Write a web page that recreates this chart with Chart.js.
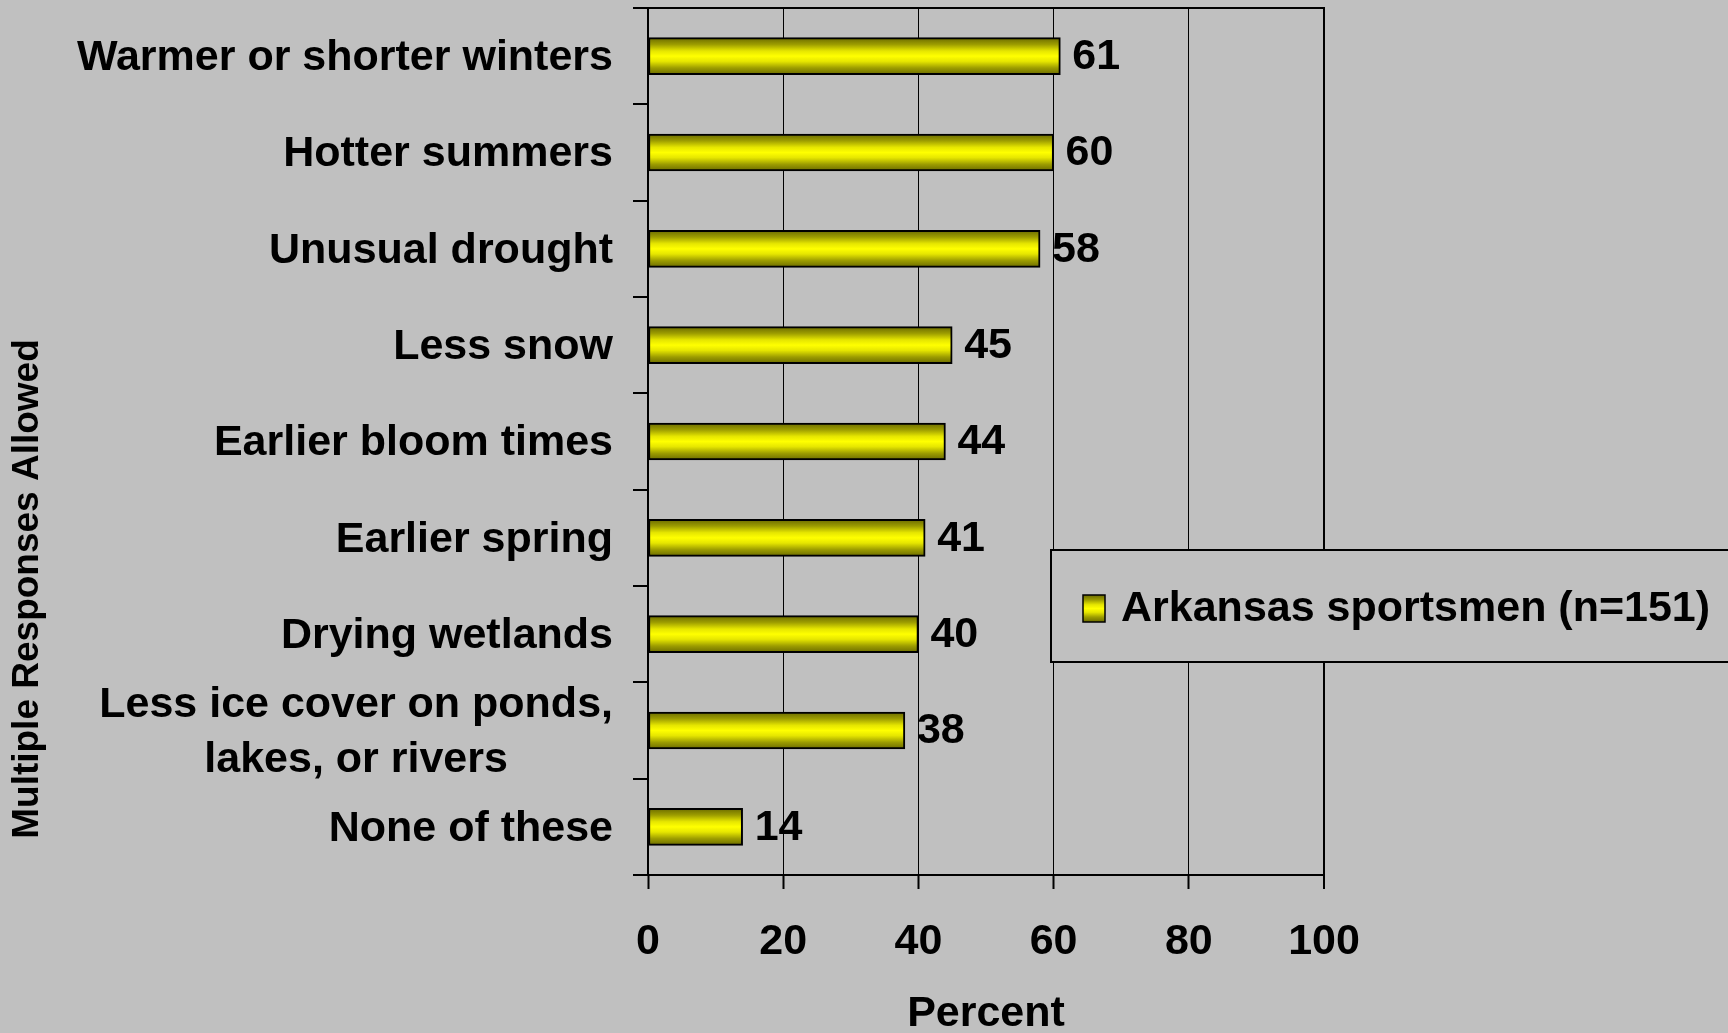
<!DOCTYPE html>
<html>
<head>
<meta charset="utf-8">
<script src="https://cdn.jsdelivr.net/npm/chart.js@4.4.1/dist/chart.umd.min.js"></script>
<style>
  html, body { margin: 0; padding: 0; background: #c0c0c0; }
  #wrap { position: relative; width: 1728px; height: 1033px; }
</style>
</head>
<body>
<div id="wrap"><canvas id="chart"></canvas></div>
<script>
// Perceived climate changes, horizontal bar chart.
const categories = [
  "Warmer or shorter winters",
  "Hotter summers",
  "Unusual drought",
  "Less snow",
  "Earlier bloom times",
  "Earlier spring",
  "Drying wetlands",
  ["Less ice cover on ponds,", "lakes, or rivers"],
  "None of these",
];
const percentValues = [61, 60, 58, 45, 44, 41, 40, 38, 14];
const seriesLabel = "Arkansas sportsmen (n=151)";
const xTitle = "Percent";
const yTitle = "Multiple Responses Allowed";

const FONT = "'Liberation Sans', Arial, sans-serif";
const BAR_H = 37;

function yellowGradient(ctx, top, bottom) {
  const g = ctx.createLinearGradient(0, top, 0, bottom);
  g.addColorStop(0, "#6a6a00");
  g.addColorStop(0.18, "#9c9c00");
  g.addColorStop(0.36, "#e6e600");
  g.addColorStop(0.5, "#ffff00");
  g.addColorStop(0.64, "#e6e600");
  g.addColorStop(0.82, "#9c9c00");
  g.addColorStop(1, "#6a6a00");
  return g;
}

// value labels to the right of each bar
const valueLabels = {
  id: "valueLabels",
  afterDatasetsDraw(chart) {
    const { ctx } = chart;
    const meta = chart.getDatasetMeta(0);
    ctx.save();
    ctx.font = `bold 43px ${FONT}`;
    ctx.fillStyle = "#000";
    ctx.textAlign = "left";
    ctx.textBaseline = "middle";
    meta.data.forEach((bar, i) => {
      ctx.fillText(String(chart.data.datasets[0].data[i]), bar.x + 12, bar.y + 1);
    });
    ctx.restore();
  },
};

// category labels: block right-aligned, lines centred within a block
const categoryLabels = {
  id: "categoryLabels",
  afterDraw(chart) {
    const { ctx, chartArea } = chart;
    const y = chart.scales.y;
    const right = chartArea.left - 35;
    const lh = 55;
    ctx.save();
    ctx.font = `bold 43px ${FONT}`;
    ctx.fillStyle = "#000";
    ctx.textBaseline = "middle";
    categories.forEach((label, i) => {
      const lines = Array.isArray(label) ? label : [label];
      const cy = y.getPixelForValue(i);
      const w = Math.max(...lines.map((l) => ctx.measureText(l).width));
      const cx = right - w / 2;
      ctx.textAlign = "center";
      lines.forEach((l, k) => {
        ctx.fillText(l, cx, cy + (k - (lines.length - 1) / 2) * lh + 2);
      });
    });
    // rotated axis title
    ctx.translate(28, 589);
    ctx.rotate(-Math.PI / 2);
    ctx.font = `bold 37px ${FONT}`;
    ctx.textAlign = "center";
    ctx.fillText(yTitle, 0, 0);
    ctx.restore();
  },
};

// top frame line + legend box
const frameAndLegend = {
  id: "frameAndLegend",
  afterDraw(chart) {
    const { ctx, chartArea } = chart;
    ctx.save();
    ctx.strokeStyle = "#000";
    ctx.lineWidth = 2;
    ctx.beginPath();
    ctx.moveTo(chartArea.left - 15, chartArea.top);
    ctx.lineTo(chartArea.right + 1, chartArea.top);
    ctx.stroke();

    // legend
    ctx.fillStyle = "#c0c0c0";
    ctx.fillRect(1051, 550, 700, 112);
    ctx.strokeRect(1051, 550, 700, 112);
    ctx.fillStyle = yellowGradient(ctx, 595, 622);
    ctx.fillRect(1083, 595, 22, 27);
    ctx.lineWidth = 1.5;
    ctx.strokeRect(1083, 595, 22, 27);
    ctx.fillStyle = "#000";
    ctx.font = `bold 43px ${FONT}`;
    ctx.textAlign = "left";
    ctx.textBaseline = "middle";
    ctx.fillText(chart.data.datasets[0].label, 1121, 609);
    ctx.restore();
  },
};

new Chart(document.getElementById("chart"), {
  type: "bar",
  data: {
    labels: categories,
    datasets: [{
      label: seriesLabel,
      data: percentValues,
      backgroundColor: (c) => {
        const ys = c.chart.scales.y;
        const cy = ys ? ys.getPixelForValue(c.dataIndex) : NaN;
        if (!Number.isFinite(cy)) return "#ffff00";
        return yellowGradient(c.chart.ctx, cy - BAR_H / 2, cy + BAR_H / 2);
      },
      borderColor: "#000",
      borderWidth: 2,
      borderSkipped: false,
      barThickness: BAR_H,
    }],
  },
  options: {
    indexAxis: "y",
    responsive: true,
    maintainAspectRatio: false,
    animation: false,
    layout: { padding: { top: 8, right: 404, left: 0, bottom: 0 } },
    plugins: { legend: { display: false }, tooltip: { enabled: false } },
    scales: {
      x: {
        min: 0,
        max: 100,
        ticks: { stepSize: 20, color: "#000", font: { family: FONT, size: 43, weight: "bold" }, padding: 27 },
        grid: {
          color: "#000",
          lineWidth: (c) => (c.tick && c.tick.value === 100 ? 2 : 1),
          tickLength: 14,
          tickWidth: 2,
        },
        border: { color: "#000", width: 2 },
        title: {
          display: true,
          text: xTitle,
          color: "#000",
          font: { family: FONT, size: 43, weight: "bold", lineHeight: 1 },
          padding: { top: 0, bottom: -3 },
        },
        afterFit: (s) => { s.height = 158; },
      },
      y: {
        offset: true,
        ticks: { display: false },
        grid: { offset: true, drawOnChartArea: false, tickLength: 15, color: "#000", lineWidth: 2 },
        border: { color: "#000", width: 2 },
        afterFit: (s) => { s.width = 648; },
      },
    },
  },
  plugins: [valueLabels, categoryLabels, frameAndLegend],
});
</script>
</body>
</html>
